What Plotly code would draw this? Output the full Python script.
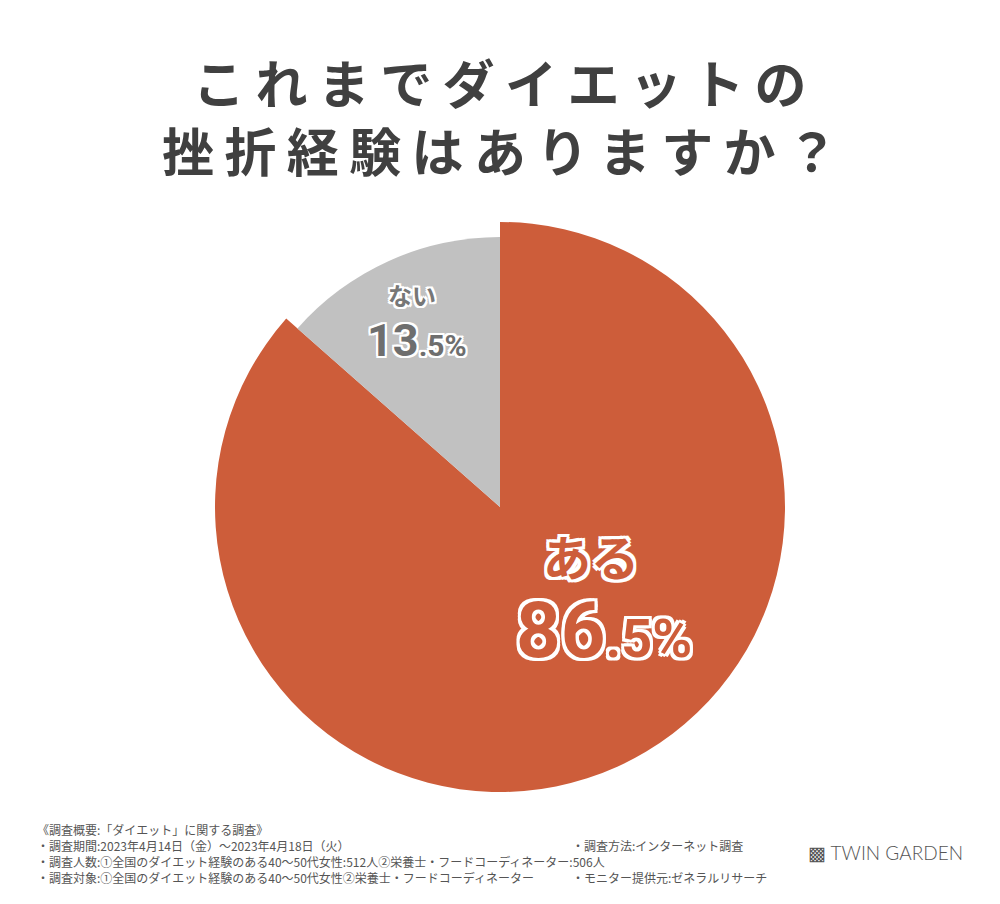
import plotly.graph_objects as go

labels = ["ある", "ない"]
values = [86.5, 13.5]
colors = ["#CD5D3A", "#C1C1C1"]

title_lines = ["これまでダイエットの", "挫折経験はありますか？"]
notes_left = [
    "《調査概要:「ダイエット」に関する調査》",
    "・調査期間:2023年4月14日（金）～2023年4月18日（火）",
    "・調査人数:①全国のダイエット経験のある40～50代女性:512人②栄養士・フードコーディネーター:506人",
    "・調査対象:①全国のダイエット経験のある40～50代女性②栄養士・フードコーディネーター",
]
notes_right = ["・調査方法:インターネット調査", "・モニター提供元:ゼネラルリサーチ"]

JP = "Noto Sans CJK JP"
W, H = 1000, 904
cx, cy = 500, 507

def dom(r):
    return dict(x=[(cx - r) / W, (cx + r) / W], y=[1 - (cy + r) / H, 1 - (cy - r) / H])

def px(x, y):
    return dict(x=x / W, y=1 - y / H, xref="paper", yref="paper",
                xanchor="center", yanchor="middle", showarrow=False)

fig = go.Figure()
# big slice (ある) and smaller slice (ない) drawn as two pies
fig.add_trace(go.Pie(labels=labels, values=values, sort=False, direction="clockwise",
                     marker=dict(colors=[colors[0], "rgba(0,0,0,0)"]), textinfo="none",
                     domain=dom(285), showlegend=False))
fig.add_trace(go.Pie(labels=labels, values=values, sort=False, direction="clockwise",
                     marker=dict(colors=["rgba(0,0,0,0)", colors[1]]), textinfo="none",
                     domain=dom(270), showlegend=False))

sp = "\u2009"
for i, line in enumerate(title_lines):
    fig.add_annotation(**px(500, 82 + i * 68), text=sp.join(line),
                       font=dict(family=JP, size=52, color="#404040", weight="bold"))

def outline(w):
    pts = []
    for dx in (-w, 0, w):
        for dy in (-w, 0, w):
            if dx or dy:
                pts.append(f"{dx}px {dy}px 0 #fff")
    return ", ".join(pts)

fig.add_annotation(**px(591, 555), text=labels[0],
                   font=dict(family=JP, size=48, color=colors[0], weight="bold", shadow=outline(3)))
fig.add_annotation(**px(604, 630),
                   text=f"86<span style='font-size:54px'>.5%</span>",
                   font=dict(family="Roboto", size=78, color=colors[0], weight="bold", shadow=outline(3)))
fig.add_annotation(**px(412, 294), text=labels[1],
                   font=dict(family=JP, size=24, color="#777777", weight="bold", shadow=outline(2)))
fig.add_annotation(**px(417, 340),
                   text=f"13<span style='font-size:30px'>.5%</span>",
                   font=dict(family="Roboto", size=45, color="#6e6e6e", weight="bold", shadow=outline(2)))

for i, t in enumerate(notes_left):
    a = px(35, 829 + i * 16)
    a["xanchor"] = "left"
    fig.add_annotation(**a, text=t, font=dict(family=JP, size=12, color="#555555"))
for i, t in enumerate(notes_right):
    a = px(570, 845 + i * 32)
    a["xanchor"] = "left"
    fig.add_annotation(**a, text=t, font=dict(family=JP, size=12, color="#555555"))

a = px(806, 852)
a["xanchor"] = "left"
fig.add_annotation(**a, text="▩ TWIN GARDEN",
                   font=dict(family="Lato", size=19, color="#555555", weight=300))

fig.update_layout(width=W, height=H, margin=dict(l=0, r=0, t=0, b=0),
                  paper_bgcolor="white", plot_bgcolor="white")
fig.write_html("out.html", config={"displayModeBar": False},
               post_script="document.body.style.margin='0';")
